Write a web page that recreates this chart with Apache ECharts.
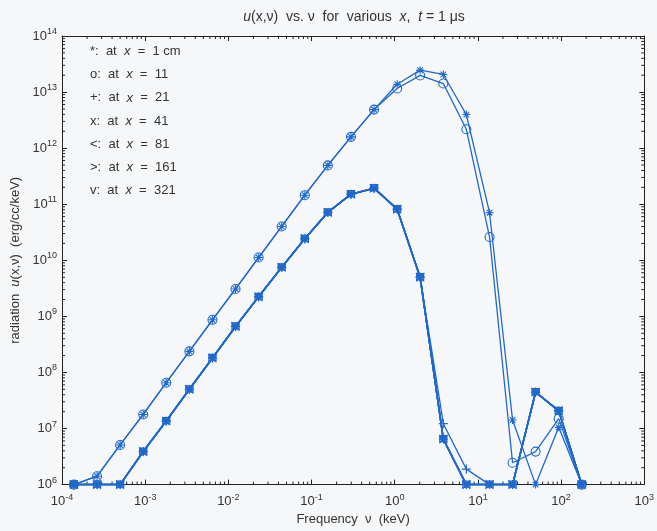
<!DOCTYPE html>
<html>
<head>
<meta charset="utf-8">
<script src="https://cdn.jsdelivr.net/npm/echarts@6/dist/echarts.min.js"></script>
<style>
html,body{margin:0;padding:0;background:#f6f7f9;}
#c{width:657px;height:531px;}
</style>
</head>
<body>
<div id="c"></div>
<script>
// Frequencies (keV)
var freq = [1.39e-4, 2.64e-4, 5.0e-4, 9.47e-4, 1.79e-3, 3.40e-3, 6.44e-3, 0.0122, 0.0231, 0.0438, 0.0830, 0.157, 0.298, 0.564, 1.07, 2.02, 3.84, 7.26, 13.8, 26.1, 49.4, 93.6, 177];

// radiation u(x,nu) (erg/cc/keV) at each x
var uX1 = [1e6, 1.41e6, 5.09e6, 1.78e7, 6.56e7, 2.38e8, 8.68e8, 3.08e9, 1.12e10, 4.01e10, 1.45e11, 4.92e11, 1.59e12, 4.87e12, 1.38e13, 2.46e13, 2.06e13, 3.97e12, 7.06e10, 1.42e7, 1e6, 1.05e7, 1e6];
var uX11 = [1e6, 1.41e6, 5.09e6, 1.78e7, 6.56e7, 2.38e8, 8.68e8, 3.08e9, 1.12e10, 4.01e10, 1.45e11, 4.92e11, 1.59e12, 4.87e12, 1.16e13, 1.98e13, 1.42e13, 2.17e12, 2.60e10, 2.45e6, 3.88e6, 1.50e7, 1e6];
var uX21 = [1e6, 1e6, 1e6, 3.88e6, 1.36e7, 5.0e7, 1.81e8, 6.62e8, 2.23e9, 7.50e9, 2.43e10, 7.15e10, 1.51e11, 1.93e11, 8.17e10, 5.01e9, 1.22e7, 1.89e6, 1e6, 1e6, 4.47e7, 2.07e7, 1e6];
var uX41 = [1e6, 1e6, 1e6, 3.88e6, 1.36e7, 5.0e7, 1.81e8, 6.62e8, 2.23e9, 7.50e9, 2.43e10, 7.15e10, 1.51e11, 1.93e11, 8.17e10, 5.01e9, 6.49e6, 1e6, 1e6, 1e6, 4.47e7, 2.07e7, 1e6];
var uX81 = [1e6, 1e6, 1e6, 3.88e6, 1.36e7, 5.0e7, 1.81e8, 6.62e8, 2.23e9, 7.50e9, 2.43e10, 7.15e10, 1.51e11, 1.93e11, 8.17e10, 5.01e9, 6.49e6, 1e6, 1e6, 1e6, 4.47e7, 2.07e7, 1e6];
var uX161 = [1e6, 1e6, 1e6, 3.88e6, 1.36e7, 5.0e7, 1.81e8, 6.62e8, 2.23e9, 7.50e9, 2.43e10, 7.15e10, 1.51e11, 1.93e11, 8.17e10, 5.01e9, 6.49e6, 1e6, 1e6, 1e6, 4.47e7, 2.07e7, 1e6];
var uX321 = [1e6, 1e6, 1e6, 3.88e6, 1.36e7, 5.0e7, 1.81e8, 6.62e8, 2.23e9, 7.50e9, 2.43e10, 7.15e10, 1.51e11, 1.93e11, 8.17e10, 5.01e9, 6.49e6, 1e6, 1e6, 1e6, 4.47e7, 2.07e7, 1e6];

var legendLines = [
  '*:  at  {i|x}  =  1 cm',
  'o:  at  {i|x}  =  11',
  '+:  at  {i|x}  =  21',
  'x:  at  {i|x}  =  41',
  '<:  at  {i|x}  =  81',
  '>:  at  {i|x}  =  161',
  'v:  at  {i|x}  =  321'
];

var xMin = 1e-4, xMax = 1e3, yMin = 1e6, yMax = 1e14;
var xDecades = [-4, -3, -2, -1, 0, 1, 2];
var yDecades = [6, 7, 8, 9, 10, 11, 12, 13];

var BLUE = '#1f68cc';
var TXT = '#333333';
var FONT = 'Liberation Sans, Arial, sans-serif';

var SYM = {
  star: 'path://M5,0L5,10M0,5L10,5M1.5,1.5L8.5,8.5M1.5,8.5L8.5,1.5',
  plus: 'path://M5,0L5,10M0,5L10,5',
  cross: 'path://M0,0L10,10M0,10L10,0',
  left: 'path://M0,5L10,0L10,10Z',
  right: 'path://M10,5L0,0L0,10Z',
  down: 'path://M0,0L10,0L5,10Z'
};

function pairs(ys) { return freq.map(function (f, i) { return [f, ys[i]]; }); }

function lineSeries(ys, symbol, size, bw, lw) {
  return {
    type: 'line', xAxisIndex: 0, yAxisIndex: 0,
    data: pairs(ys), symbol: symbol, symbolSize: size, showSymbol: true,
    lineStyle: { color: BLUE, width: lw },
    itemStyle: { color: 'rgba(0,0,0,0)', borderColor: BLUE, borderWidth: bw },
    emphasis: { disabled: true }, animation: false, z: 3
  };
}

var minorX = [];
xDecades.forEach(function (d) { for (var m = 2; m <= 9; m++) minorX.push([m * Math.pow(10, d), yMin]); });
var minorY = [];
yDecades.forEach(function (d) { for (var m = 2; m <= 9; m++) minorY.push([xMin, m * Math.pow(10, d)]); });

var supFmt = function (v) {
  var e = Math.round(Math.log10(v));
  return '10{s|' + e + '}';
};
var labelRich = {
  s: { fontSize: 9, verticalAlign: 'bottom', padding: [0, 0, 9, 0], color: TXT, fontFamily: FONT }
};

var chart = echarts.init(document.getElementById('c'), null, { renderer: 'canvas' });
var option = {
  backgroundColor: '#f6f7f9',
  animation: false,
  title: {
    text: '{i|u}(x,ν)  vs. ν  for  various  {i|x},  {i|t} = 1 μs',
    left: 349, top: 5, textAlign: 'center',
    textStyle: {
      fontSize: 14, fontWeight: 'normal', color: TXT, fontFamily: FONT,
      rich: { i: { fontStyle: 'italic', fontSize: 14, color: TXT, fontFamily: FONT } }
    }
  },
  grid: { left: 62, right: 10, top: 36, bottom: 40, containLabel: false },
  xAxis: [{
    type: 'log', logBase: 10, min: xMin, max: xMax, interval: 1,
    position: 'bottom',
    name: 'Frequency  ν  (keV)', nameLocation: 'middle', nameGap: 25,
    nameTextStyle: { fontSize: 13, color: TXT, fontFamily: FONT },
    axisLine: { show: true, lineStyle: { color: '#222', width: 1 } },
    axisTick: { show: true, inside: true, length: 5, lineStyle: { color: '#222' } },
    axisLabel: { formatter: supFmt, color: TXT, fontSize: 13, fontFamily: FONT, margin: 8, rich: labelRich },
    splitLine: { show: false }
  }, {
    type: 'log', logBase: 10, min: xMin, max: xMax, interval: 1,
    position: 'top',
    axisLine: { show: true, lineStyle: { color: '#222', width: 1 } },
    axisTick: { show: true, inside: true, length: 5, lineStyle: { color: '#222' } },
    axisLabel: { show: false }, splitLine: { show: false }
  }],
  yAxis: [{
    type: 'log', logBase: 10, min: yMin, max: yMax, interval: 1,
    position: 'left',
    name: 'radiation  {i|u}(x,ν)  (erg/cc/keV)', nameLocation: 'middle', nameGap: 35,
    nameTextStyle: { fontSize: 13, color: TXT, fontFamily: FONT,
      rich: { i: { fontStyle: 'italic', fontSize: 13, color: TXT, fontFamily: FONT } } },
    axisLine: { show: true, lineStyle: { color: '#222', width: 1 } },
    axisTick: { show: true, inside: true, length: 5, lineStyle: { color: '#222' } },
    axisLabel: { formatter: supFmt, color: TXT, fontSize: 13, fontFamily: FONT, margin: 5, rich: labelRich },
    splitLine: { show: false }
  }, {
    type: 'log', logBase: 10, min: yMin, max: yMax, interval: 1,
    position: 'right',
    axisLine: { show: true, lineStyle: { color: '#222', width: 1 } },
    axisTick: { show: true, inside: true, length: 5, lineStyle: { color: '#222' } },
    axisLabel: { show: false }, splitLine: { show: false }
  }],
  graphic: legendLines.map(function (t, i) {
    return {
      type: 'text', left: 90, top: 45 + i * 23.2, silent: true,
      style: {
        text: t, fill: TXT, fontSize: 13, fontFamily: FONT,
        rich: { i: { fontStyle: 'italic', fontSize: 13, fill: TXT, fontFamily: FONT } }
      }
    };
  }),
  series: [
    {
      type: 'custom', xAxisIndex: 0, yAxisIndex: 0, data: minorX, silent: true, z: 2,
      renderItem: function (params, api) {
        var x = api.value(0);
        var b = api.coord([x, yMin]);
        var t = api.coord([x, yMax]);
        var st = { stroke: '#222', lineWidth: 1 };
        return { type: 'group', children: [
          { type: 'line', shape: { x1: b[0], y1: b[1], x2: b[0], y2: b[1] - 3 }, style: st },
          { type: 'line', shape: { x1: t[0], y1: t[1], x2: t[0], y2: t[1] + 3 }, style: st }
        ] };
      }
    },
    {
      type: 'custom', xAxisIndex: 0, yAxisIndex: 0, data: minorY, silent: true, z: 2,
      renderItem: function (params, api) {
        var y = api.value(1);
        var l = api.coord([xMin, y]);
        var r = api.coord([xMax, y]);
        var st = { stroke: '#222', lineWidth: 1 };
        return { type: 'group', children: [
          { type: 'line', shape: { x1: l[0], y1: l[1], x2: l[0] + 3, y2: l[1] }, style: st },
          { type: 'line', shape: { x1: r[0], y1: r[1], x2: r[0] - 3, y2: r[1] }, style: st }
        ] };
      }
    },
    lineSeries(uX321, SYM.down, 7, 1.3, 1.6),
    lineSeries(uX161, SYM.right, 7, 1.3, 1.6),
    lineSeries(uX81, SYM.left, 7, 1.3, 1.6),
    lineSeries(uX41, SYM.cross, 7, 1.3, 1.6),
    lineSeries(uX21, SYM.plus, 9, 1.2, 1.3),
    lineSeries(uX11, 'circle', 9, 1.1, 1.3),
    lineSeries(uX1, SYM.star, 8, 1.1, 1.3)
  ]
};
chart.setOption(option);
</script>
</body>
</html>
